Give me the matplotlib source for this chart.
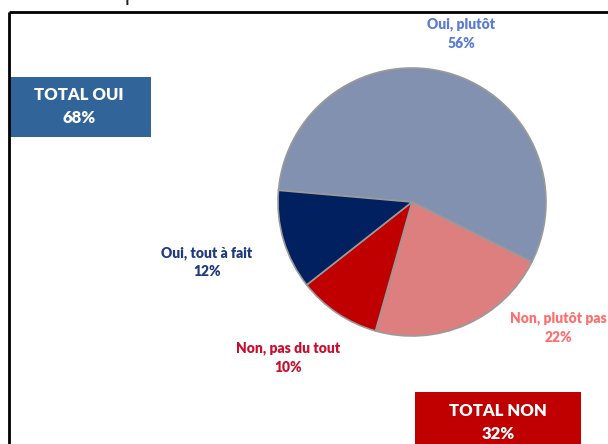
import matplotlib.pyplot as plt
from matplotlib.patches import Rectangle

# data
labels = ['Oui, plutôt', 'Non, plutôt pas', 'Non, pas du tout', 'Oui, tout à fait']
values = [56, 22, 10, 12]
slice_colors = ['#8391B0', '#DE7F7F', '#C00000', '#00205F']
label_colors = ['#5A7BD6', '#FF6F6F', '#C8102E', '#1F3A80']
totals = ['TOTAL OUI', 'TOTAL NON']
total_values = [68, 32]

W, H = 608, 444
FONT = 'Lato'

fig = plt.figure(figsize=(W / 100, H / 100), dpi=100)


def px(x, y):
    # pixel coords (top-left origin) -> figure fraction
    return x / W, 1 - y / H


# pie axes, centre (412, 202), radius 134 px
cx, cy, r = 412, 202, 134
ax = fig.add_axes([(cx - r) / W, (H - cy - r) / H, 2 * r / W, 2 * r / H])
ax.pie(values, colors=slice_colors, startangle=175, counterclock=False,
       wedgeprops=dict(edgecolor='#9A9A9A', linewidth=1.2))
ax.set_xlim(-1.0, 1.0)
ax.set_ylim(-1.0, 1.0)
ax.set_aspect('auto')
ax.axis('off')

# slice labels, placed like the original
label_pos = [(461, 24), (558, 318), (288, 348), (207, 253)]
for lab, v, col, (x, y) in zip(labels, values, label_colors, label_pos):
    fig.text(*px(x, y), lab, ha='center', va='center', color=col,
             fontsize=10, fontweight='heavy', family=FONT)
    fig.text(*px(x, y + 19), f'{v}%', ha='center', va='center', color=col,
             fontsize=10, fontweight='heavy', family=FONT)

# overlay axes in pixel coords for boxes / frame
ov = fig.add_axes([0, 0, 1, 1], zorder=5)
ov.set_xlim(0, W)
ov.set_ylim(H, 0)
ov.axis('off')
ov.patch.set_alpha(0)

boxes = [(10, 77, 141, 60, '#31659A', (79, 95)), (415, 392, 166, 60, '#C00000', (498, 411))]
for name, v, (x0, y0, w, h, c, (tx, ty)) in zip(totals, total_values, boxes):
    ov.add_patch(Rectangle((x0, y0), w, h, facecolor=c, edgecolor='none'))
    ov.text(tx, ty, name, ha='center', va='center', color='white',
            fontsize=12, fontweight='heavy', family=FONT)
    ov.text(tx, ty + 23, f'{v}%', ha='center', va='center', color='white',
            fontsize=12, fontweight='heavy', family=FONT)

# frame (left + top)
ov.plot([9, 9], [12, H], color='black', lw=2, solid_capstyle='butt')
ov.plot([9, W], [12, 12], color='black', lw=2, solid_capstyle='butt')

# heading of the slide, mostly outside the picture
ov.text(78, -1, 'complémentaire', ha='left', va='baseline', color='#222222',
        fontsize=17, family='Open Sans', clip_on=True)

fig.savefig('out.png', dpi=100)
